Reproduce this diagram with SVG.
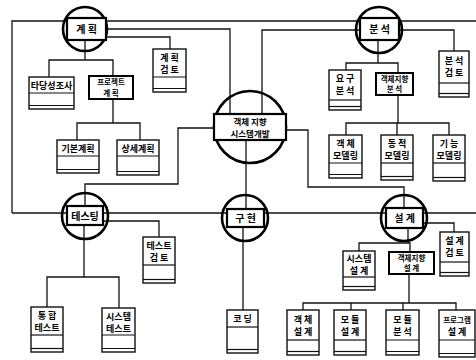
<svg xmlns="http://www.w3.org/2000/svg" width="476" height="360" viewBox="0 0 476 360">
<style>
.ln{fill:none;stroke:#111;stroke-width:1.3}
.hub{fill:none;stroke:#000;stroke-width:2.6}
.hr{fill:#fff;stroke:#000;stroke-width:2.2}
.bx{fill:#fff;stroke:#111;stroke-width:1.4}
.pb{fill:#fff;stroke:#000;stroke-width:2}
.sep{stroke:#111;stroke-width:1.2}
.bot{stroke:#111;stroke-width:1.2}
.t{font-family:"Noto Sans CJK KR","Noto Sans CJK SC",sans-serif;font-weight:bold;font-size:9px;fill:#000;text-anchor:middle}
.tc{font-family:"Noto Sans CJK KR","Noto Sans CJK SC",sans-serif;font-weight:bold;font-size:8.5px;fill:#000;text-anchor:middle}
.ts{font-family:"Noto Sans CJK KR","Noto Sans CJK SC",sans-serif;font-weight:bold;font-size:7.5px;fill:#000;text-anchor:middle}
.th{font-family:"Noto Sans CJK KR","Noto Sans CJK SC",sans-serif;font-weight:bold;font-size:10px;fill:#000;text-anchor:middle}
</style>
<rect width="476" height="360" fill="#fff"/>
<g id="connectors">
<path class="ln" d="M12,213 V21 H476"/>
<path class="ln" d="M12,213 H476"/>
<path class="ln" d="M106,29 H230 V115"/>
<path class="ln" d="M106,37 H170 V49"/>
<path class="ln" d="M360,30 H262 V115"/>
<path class="ln" d="M399,30 H454 V51"/>
<path class="ln" d="M85,40 V60 M49,77 V60 H113 V76"/>
<path class="ln" d="M113,99 V123 M77,140 V123 H140 V140"/>
<path class="ln" d="M378,40 V63 M346,70 V63 H398 V73"/>
<path class="ln" d="M398,95 V123 M346,135 V123 H449 V135 M397,123 V135"/>
<path class="ln" d="M246,139 V209"/>
<path class="ln" d="M214,128 H178 V184 H85 V206"/>
<path class="ln" d="M286,130 H308 V187 H404 V208"/>
<path class="ln" d="M103,221 H159 V237"/>
<path class="ln" d="M84,225 V277 M47,307 V277 H119 V308"/>
<path class="ln" d="M243,227 V310"/>
<path class="ln" d="M423,223 H454 V232"/>
<path class="ln" d="M408,228 V243 M359,251 V243 H410 V252"/>
<path class="ln" d="M409,274 V303 M303,310 V303 H456 V310 M351,303 V310 M403,303 V310"/>
</g>
<g id="plan">
<circle class="hub" cx="85" cy="29" r="22"/>
<rect class="hr" x="67" y="18" width="39" height="22"/>
<text class="th" x="86.5" y="33">계 획</text>
</g>
<g id="analysis">
<circle class="hub" cx="379" cy="30" r="23"/>
<rect class="hr" x="360" y="18" width="39" height="22"/>
<text class="th" x="379.5" y="33">분 석</text>
</g>
<g id="center">
<circle class="hub" cx="250" cy="127" r="36"/>
<rect class="hr" x="214" y="114" width="72" height="26"/>
<text class="tc" x="250" y="124.5">객체 지향</text>
<text class="tc" x="250" y="136.5">시스템개발</text>
</g>
<g id="testing">
<circle class="hub" cx="85" cy="216" r="23"/>
<rect class="hr" x="67" y="206" width="36" height="19"/>
<text class="th" x="85" y="219.5">테스팅</text>
</g>
<g id="impl">
<circle class="hub" cx="245" cy="218" r="23"/>
<rect class="hr" x="227" y="209" width="37" height="18"/>
<text class="th" x="245.5" y="222">구 현</text>
</g>
<g id="design">
<circle class="hub" cx="404" cy="218" r="23"/>
<rect class="hr" x="386" y="208" width="37" height="20"/>
<text class="th" x="404.5" y="222">설 계</text>
</g>
<g id="feasibility">
<rect class="bx" x="29" y="77" width="45" height="32"/>
<line class="sep" x1="29" y1="93" x2="74" y2="93"/><line class="bot" x1="29" y1="105.5" x2="74" y2="105.5"/>
<text class="t" x="51.5" y="89">타당성조사</text>
</g>
<g id="plan-review">
<rect class="bx" x="153" y="49" width="33" height="43"/>
<line class="sep" x1="153" y1="77" x2="186" y2="77"/><line class="bot" x1="153" y1="88.5" x2="186" y2="88.5"/>
<text class="t" x="169.5" y="61">계  획</text><text class="t" x="169.5" y="73">검  토</text>
</g>
<g id="project-plan">
<rect class="pb" x="89" y="76" width="44" height="23"/>
<text class="ts" x="111" y="85">프로젝트</text><text class="ts" x="111" y="95.5">계    획</text>
</g>
<g id="basic-plan">
<rect class="bx" x="57" y="140" width="42" height="33"/>
<line class="sep" x1="57" y1="156" x2="99" y2="156"/><line class="bot" x1="57" y1="169.5" x2="99" y2="169.5"/>
<text class="t" x="78" y="152">기본계획</text>
</g>
<g id="detail-plan">
<rect class="bx" x="117" y="140" width="42" height="35"/>
<line class="sep" x1="117" y1="156" x2="159" y2="156"/><line class="bot" x1="117" y1="171.5" x2="159" y2="171.5"/>
<text class="t" x="138" y="152">상세계획</text>
</g>
<g id="req-analysis">
<rect class="bx" x="329" y="70" width="32" height="40"/>
<line class="sep" x1="329" y1="100" x2="361" y2="100"/><line class="bot" x1="329" y1="106.5" x2="361" y2="106.5"/>
<text class="t" x="345" y="82">요  구</text><text class="t" x="345" y="94">분  석</text>
</g>
<g id="oo-analysis">
<rect class="pb" x="376" y="73" width="37" height="22"/>
<text class="ts" x="394.5" y="82">객체지향</text><text class="ts" x="394.5" y="92">분    석</text>
</g>
<g id="analysis-review">
<rect class="bx" x="439" y="51" width="30" height="46"/>
<line class="sep" x1="439" y1="83" x2="469" y2="83"/><line class="bot" x1="439" y1="93.5" x2="469" y2="93.5"/>
<text class="t" x="454" y="64">분  석</text><text class="t" x="454" y="76">검  토</text>
</g>
<g id="object-modeling">
<rect class="bx" x="329" y="135" width="33" height="43"/>
<line class="sep" x1="329" y1="163" x2="362" y2="163"/><line class="bot" x1="329" y1="174.5" x2="362" y2="174.5"/>
<text class="t" x="345.5" y="147">객  체</text><text class="t" x="345.5" y="159">모델링</text>
</g>
<g id="dynamic-modeling">
<rect class="bx" x="381" y="135" width="32" height="45"/>
<line class="sep" x1="381" y1="163" x2="413" y2="163"/><line class="bot" x1="381" y1="176.5" x2="413" y2="176.5"/>
<text class="t" x="397" y="147">동  적</text><text class="t" x="397" y="159">모델링</text>
</g>
<g id="function-modeling">
<rect class="bx" x="433" y="135" width="32" height="46"/>
<line class="sep" x1="433" y1="163" x2="465" y2="163"/><line class="bot" x1="433" y1="177.5" x2="465" y2="177.5"/>
<text class="t" x="449" y="147">기  능</text><text class="t" x="449" y="159">모델링</text>
</g>
<g id="test-review">
<rect class="bx" x="143" y="237" width="32" height="46"/>
<line class="sep" x1="143" y1="265" x2="175" y2="265"/><line class="bot" x1="143" y1="279.5" x2="175" y2="279.5"/>
<text class="t" x="159" y="249">테스트</text><text class="t" x="159" y="261">검  토</text>
</g>
<g id="integration-test">
<rect class="bx" x="31" y="307" width="32" height="45"/>
<line class="sep" x1="31" y1="335" x2="63" y2="335"/><line class="bot" x1="31" y1="348.5" x2="63" y2="348.5"/>
<text class="t" x="47" y="319">통  합</text><text class="t" x="47" y="331">테스트</text>
</g>
<g id="system-test">
<rect class="bx" x="102" y="308" width="33" height="44"/>
<line class="sep" x1="102" y1="335" x2="135" y2="335"/><line class="bot" x1="102" y1="348.5" x2="135" y2="348.5"/>
<text class="t" x="118.5" y="320">시스템</text><text class="t" x="118.5" y="332">테스트</text>
</g>
<g id="coding">
<rect class="bx" x="227" y="310" width="31" height="43"/>
<line class="sep" x1="227" y1="327" x2="258" y2="327"/><line class="bot" x1="227" y1="349.5" x2="258" y2="349.5"/>
<text class="t" x="242.5" y="322">코  딩</text>
</g>
<g id="system-design">
<rect class="bx" x="343" y="251" width="32" height="39"/>
<line class="sep" x1="343" y1="277" x2="375" y2="277"/><line class="bot" x1="343" y1="286.5" x2="375" y2="286.5"/>
<text class="t" x="359" y="262">시스템</text><text class="t" x="359" y="274">설  계</text>
</g>
<g id="oo-design">
<rect class="pb" x="389" y="252" width="45" height="22"/>
<text class="ts" x="411.5" y="261">객체지향</text><text class="ts" x="411.5" y="271">설    계</text>
</g>
<g id="design-review">
<rect class="bx" x="440" y="232" width="29" height="44"/>
<line class="sep" x1="440" y1="262" x2="469" y2="262"/><line class="bot" x1="440" y1="272.5" x2="469" y2="272.5"/>
<text class="t" x="454.5" y="244">설  계</text><text class="t" x="454.5" y="256">검  토</text>
</g>
<g id="object-design">
<rect class="bx" x="287" y="310" width="32" height="45"/>
<line class="sep" x1="287" y1="340" x2="319" y2="340"/><line class="bot" x1="287" y1="351.5" x2="319" y2="351.5"/>
<text class="t" x="303" y="323">객  체</text><text class="t" x="303" y="335">설  계</text>
</g>
<g id="module-design">
<rect class="bx" x="334" y="310" width="32" height="45"/>
<line class="sep" x1="334" y1="340" x2="366" y2="340"/><line class="bot" x1="334" y1="351.5" x2="366" y2="351.5"/>
<text class="t" x="350" y="323">모  듈</text><text class="t" x="350" y="335">설  계</text>
</g>
<g id="module-analysis">
<rect class="bx" x="386" y="310" width="33" height="45"/>
<line class="sep" x1="386" y1="340" x2="419" y2="340"/><line class="bot" x1="386" y1="351.5" x2="419" y2="351.5"/>
<text class="t" x="402.5" y="323">모  듈</text><text class="t" x="402.5" y="335">분  석</text>
</g>
<g id="program-design">
<rect class="bx" x="439" y="310" width="36" height="47"/>
<line class="sep" x1="439" y1="340" x2="475" y2="340"/><line class="bot" x1="439" y1="353.5" x2="475" y2="353.5"/>
<text class="ts" x="457" y="323">프로그램</text><text class="t" x="457" y="335">설    계</text>
</g>
</svg>
